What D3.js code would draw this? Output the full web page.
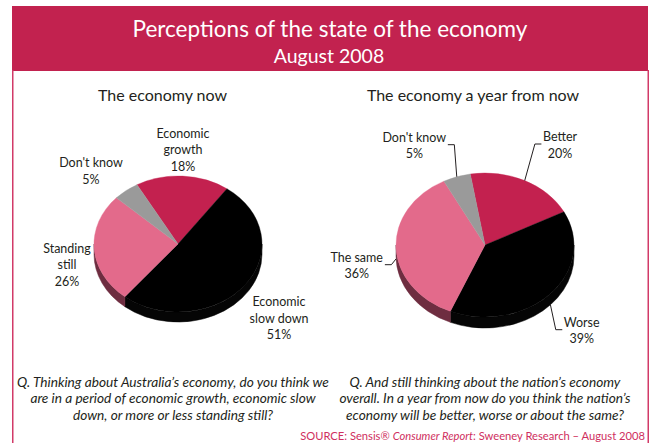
<!DOCTYPE html>
<html>
<head>
<meta charset="utf-8">
<script src="https://cdn.jsdelivr.net/npm/d3@7"></script>
<style>
  body { margin: 0; background: #fff; }
  svg { display: block; }
  text { font-family: Lato, "Open Sans", "DejaVu Sans", sans-serif; }
</style>
</head>
<body>
<svg id="chart" width="652" height="443"></svg>
<script>
// Survey results, August 2008
const nowCategories = ["Economic growth", "Economic slow down", "Standing still", "Don't know"];
const nowValues = [18, 51, 26, 5];
const nowLabelLines = [["Economic", "growth"], ["Economic", "slow down"], ["Standing", "still"], ["Don't know"]];

const futureCategories = ["Better", "Worse", "The same", "Don't know"];
const futureValues = [20, 39, 36, 5];
const futureLabelLines = [["Better"], ["Worse"], ["The same"], ["Don't know"]];

const titleText = "Perceptions of the state of the economy";
const subtitleText = "August 2008";
const nowQuestion = [
  "Q. Thinking about Australia\u2019s economy, do you think we",
  "are in a period of economic growth, economic slow",
  "down, or more or less standing still?"
];
const futureQuestion = [
  "Q. And still thinking about the nation\u2019s economy",
  "overall.  In a year from now do you think the nation\u2019s",
  "economy will be better, worse or about the same?"
];

// Palette shared by both pies: [positive, negative, neutral, unsure]
const sliceColours = ["#c3214f", "#000000", "#e36a8b", "#9a9a9a"];
const sideColours  = ["#6d1029", "#050505", "#6e2d40", "#555555"];
const crimson = "#c2224f";
const inkColour = "#231f20";

const svg = d3.select("#chart");

// Header band and frame
svg.append("rect").attr("x", 12).attr("y", 6).attr("width", 636).attr("height", 65).attr("fill", crimson);
svg.append("line").attr("x1", 12.75).attr("x2", 12.75).attr("y1", 70).attr("y2", 443)
  .attr("stroke", "#d23a68").attr("stroke-width", 1.5);
svg.append("line").attr("x1", 648.25).attr("x2", 648.25).attr("y1", 70).attr("y2", 443)
  .attr("stroke", "#d23a68").attr("stroke-width", 1.5);

svg.append("text").attr("x", 330).attr("y", 36.5).attr("text-anchor", "middle")
  .attr("fill", "#fff").attr("font-size", 22.5).text(titleText);
svg.append("text").attr("x", 329).attr("y", 63).attr("text-anchor", "middle")
  .attr("fill", "#fff").attr("font-size", 19.5).text(subtitleText);

const lineHeight = 16.5;

function drawPie(cfg) {
  const { cx, cy, rx, ry, depth, start, values, labelLines, labels, heading } = cfg;

  svg.append("text").attr("x", heading.x).attr("y", heading.y).attr("text-anchor", "middle")
    .attr("fill", inkColour).attr("font-size", 16).text(heading.text);

  const arcs = d3.pie().sort(null).value(d => d)
    .startAngle(start).endAngle(start + 2 * Math.PI)(values);

  const g = svg.append("g").attr("transform", `translate(${cx},${cy})`);
  const pt = a => [rx * Math.sin(a), -ry * Math.cos(a)];

  // Side wall: only the part of each slice that faces the viewer (lower half)
  const front0 = Math.PI / 2, front1 = 3 * Math.PI / 2;
  arcs.forEach((d, i) => {
    [0, -2 * Math.PI, 2 * Math.PI].forEach(shift => {
      const b0 = Math.max(d.startAngle + shift, front0);
      const b1 = Math.min(d.endAngle + shift, front1);
      if (b1 <= b0) return;
      const p0 = pt(b0), p1 = pt(b1);
      const path = `M${p0[0]},${p0[1]} A${rx},${ry} 0 0 1 ${p1[0]},${p1[1]}` +
        ` L${p1[0]},${p1[1] + depth} A${rx},${ry} 0 0 0 ${p0[0]},${p0[1] + depth} Z`;
      g.append("path").attr("d", path).attr("fill", sideColours[i])
        .attr("stroke", sideColours[i]).attr("stroke-width", 0.5);
    });
  });

  // Top face: a circular pie squashed vertically
  const arc = d3.arc().innerRadius(0).outerRadius(rx);
  g.append("g").attr("transform", `scale(1,${ry / rx})`)
    .selectAll("path").data(arcs).join("path")
    .attr("d", arc).attr("fill", (d, i) => sliceColours[i])
    .attr("stroke", (d, i) => sliceColours[i]).attr("stroke-width", 0.4);

  // Labels
  arcs.forEach((d, i) => {
    const L = labels[i];
    const lines = labelLines[i].concat([`${values[i]}%`]);
    const t = svg.append("text").attr("text-anchor", "middle")
      .attr("fill", inkColour).attr("font-size", 12.5);
    lines.forEach((s, k) => {
      t.append("tspan").attr("x", L.x).attr("y", L.y + k * lineHeight).text(s);
    });
    if (L.leader) {
      const first = t.select("tspan").node();
      const bb = first.getBBox();
      const mid = (d.startAngle + d.endAngle) / 2;
      const e = pt(mid);
      let ex = cx + e[0], ey = cy + e[1];
      const m = ((mid % (2 * Math.PI)) + 2 * Math.PI) % (2 * Math.PI);
      if (m > front0 && m < front1) ey += depth;
      const sy = L.y + 3;
      const sx0 = L.leader === "right" ? bb.x + bb.width + 1.5 : bb.x - 1.5;
      const sx1 = L.leader === "right" ? sx0 + 6.5 : sx0 - 6.5;
      svg.append("polyline")
        .attr("points", `${sx0},${sy} ${sx1},${sy} ${ex},${ey}`)
        .attr("fill", "none").attr("stroke", inkColour).attr("stroke-width", 1);
    }
  });
}

drawPie({
  cx: 178, cy: 244, rx: 84, ry: 68, depth: 10,
  start: -29.2 * Math.PI / 180,
  values: nowValues, labelLines: nowLabelLines,
  heading: { text: "The economy now", x: 162.5, y: 100.5 },
  labels: [
    { x: 183, y: 137.5 },
    { x: 279, y: 306 },
    { x: 67, y: 252.5 },
    { x: 91, y: 167 }
  ]
});

drawPie({
  cx: 485, cy: 245, rx: 89, ry: 72, depth: 11,
  start: -9.5 * Math.PI / 180,
  values: futureValues, labelLines: futureLabelLines,
  heading: { text: "The economy a year from now", x: 473, y: 100.5 },
  labels: [
    { x: 560, y: 141, leader: "left" },
    { x: 581.7, y: 326.7, leader: "left" },
    { x: 356.7, y: 261.7, leader: "right" },
    { x: 414.3, y: 141.7, leader: "right" }
  ]
});

// Question wording under each pie
function drawQuestion(lines, x) {
  const t = svg.append("text").attr("text-anchor", "middle").attr("font-style", "italic")
    .attr("fill", inkColour).attr("font-size", 13.7);
  lines.forEach((s, k) => t.append("tspan").attr("x", x).attr("y", 386.5 + k * 16.5).text(s));
}
drawQuestion(nowQuestion, 173);
drawQuestion(futureQuestion, 485);

// Source line
const src = svg.append("text").attr("x", 645).attr("y", 440).attr("text-anchor", "end")
  .attr("fill", "#cf2f60").attr("font-size", 11.2);
src.append("tspan").text("SOURCE: Sensis\u00ae ");
src.append("tspan").attr("font-style", "italic").text("Consumer Report");
src.append("tspan").text(": Sweeney Research \u2013 August 2008");
</script>
</body>
</html>
